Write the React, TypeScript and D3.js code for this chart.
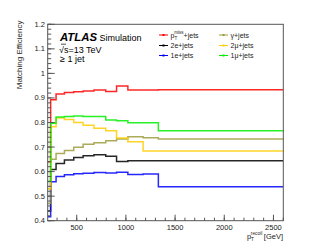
import React from "react";
import * as d3 from "d3";

// bin edges in GeV (pT recoil)
const binEdges = [205, 235, 290, 375, 470, 565, 675, 795, 905, 1020, 1175, 1330, 2600];

const ptmissJets = [0.64, 0.893, 0.916, 0.922, 0.925, 0.928, 0.932, 0.926, 0.949, 0.932, 0.932, 0.933];
const twoEJets = [0.44, 0.609, 0.633, 0.647, 0.657, 0.665, 0.669, 0.663, 0.641, 0.644, 0.644, 0.644];
const oneEJets = [0.416, 0.559, 0.58, 0.587, 0.591, 0.593, 0.596, 0.594, 0.597, 0.588, 0.59, 0.538];
const gammaJets = [0.47, 0.65, 0.674, 0.686, 0.699, 0.711, 0.718, 0.726, 0.733, 0.742, 0.738, 0.733];
const twoMuJets = [0.53, 0.783, 0.818, 0.812, 0.8, 0.789, 0.777, 0.766, 0.737, 0.722, 0.684, 0.684];
const oneMuJets = [0.56, 0.797, 0.822, 0.824, 0.826, 0.824, 0.824, 0.81, 0.807, 0.799, 0.799, 0.766];

const yTicks = [0.4, 0.5, 0.6, 0.7, 0.8, 0.9, 1, 1.1, 1.2];
const xTicks = [500, 1000, 1500, 2000, 2500];

// drawing order, last on top
const series = [
  { key: "ptmiss", values: ptmissJets, color: "#ff0000" },
  { key: "2e", values: twoEJets, color: "#000000" },
  { key: "1e", values: oneEJets, color: "#0000ff" },
  { key: "gamma", values: gammaJets, color: "#9c9c3c" },
  { key: "2mu", values: twoMuJets, color: "#ffcc00" },
  { key: "1mu", values: oneMuJets, color: "#00ee00" },
];

const W = 315;
const H = 246;
const left = 47.7;
const right = 283.3;
const top = 24.3;
const bottom = 220.7;
const font = "'Liberation Sans', Arial, sans-serif";

function App() {
  const x = d3.scaleLinear().domain([205, 2600]).range([left, right]);
  const y = d3.scaleLinear().domain([0.4, 1.2]).range([bottom, top]);

  const line = d3
    .line<[number, number]>()
    .x((d) => x(d[0]))
    .y((d) => y(d[1]))
    .curve(d3.curveStepAfter);

  const stepPoints = (vals: number[]): [number, number][] => {
    const pts: [number, number][] = vals.map((v, i) => [binEdges[i], v]);
    pts.push([binEdges[binEdges.length - 1], vals[vals.length - 1]]);
    return pts;
  };

  const yMinor = d3.range(0.4, 1.2001, 0.02);
  const xMinor = d3.range(300, 2601, 100);

  const legendRows = [
    [
      { color: "#ff0000", label: "ptmiss" },
      { color: "#9c9c3c", label: "γ+jets" },
    ],
    [
      { color: "#000000", label: "2e+jets" },
      { color: "#ffcc00", label: "2μ+jets" },
    ],
    [
      { color: "#0000ff", label: "1e+jets" },
      { color: "#00ee00", label: "1μ+jets" },
    ],
  ];
  const legendY = [35, 45.5, 55.5];
  const legendX = [159, 219];

  return (
    <svg
      width={W}
      height={H}
      style={{ position: "absolute", left: 0, top: 0, background: "#fff" }}
      fontFamily={font}
    >
      <defs>
        <clipPath id="plot-clip">
          <rect x={left} y={top} width={right - left} height={bottom - top} />
        </clipPath>
      </defs>

      {/* histograms */}
      <g clipPath="url(#plot-clip)">
        {series.map((s) => (
          <path
            key={s.key}
            d={line(stepPoints(s.values)) || ""}
            fill="none"
            stroke={s.color}
            strokeWidth={1.5}
            strokeOpacity={0.85}
          />
        ))}
      </g>

      {/* frame */}
      <rect
        x={left}
        y={top}
        width={right - left}
        height={bottom - top}
        fill="none"
        stroke="#555"
        strokeWidth={1}
      />

      {/* y axis ticks */}
      {yMinor.map((v, i) => (
        <line key={"ym" + i} x1={left} x2={left + 3.5} y1={y(v)} y2={y(v)} stroke="#555" />
      ))}
      {yTicks.map((v) => (
        <g key={"y" + v}>
          <line x1={left} x2={left + 7} y1={y(v)} y2={y(v)} stroke="#555" />
          <text x={45} y={y(v) + 2.5} fontSize={7.5} textAnchor="end" fill="#222">
            {String(v)}
          </text>
        </g>
      ))}

      {/* x axis ticks */}
      {xMinor.map((v) => (
        <line key={"xm" + v} x1={x(v)} x2={x(v)} y1={bottom} y2={bottom - 3} stroke="#555" />
      ))}
      {xTicks.map((v) => (
        <g key={"x" + v}>
          <line x1={x(v)} x2={x(v)} y1={bottom} y2={bottom - 6} stroke="#555" />
          <text x={x(v)} y={230} fontSize={7.5} textAnchor="middle" fill="#222">
            {v}
          </text>
        </g>
      ))}

      {/* axis titles */}
      <text
        transform={`translate(21.5,20.5) rotate(-90)`}
        fontSize={8}
        textAnchor="end"
        fill="#222"
      >
        Matching Efficiency
      </text>
      <text x={283} y={238.5} fontSize={7.5} textAnchor="end" fill="#222">
        p
        <tspan fontSize={4.8} dy={2.5}>T</tspan>
        <tspan fontSize={4.8} dx={-3} dy={-6.5}>recoil</tspan>
        <tspan dy={4} dx={1.5}>[GeV]</tspan>
      </text>

      {/* ATLAS label */}
      <text
        x={60}
        y={40.5}
        fontSize={11.5}
        fontWeight="bold"
        fontStyle="italic"
        fill="#000"
        textLength={37}
        lengthAdjust="spacingAndGlyphs"
      >
        ATLAS
      </text>
      <text x={99.5} y={40.5} fontSize={9.5} fill="#000" textLength={42} lengthAdjust="spacingAndGlyphs">
        Simulation
      </text>
      <text x={59} y={52.5} fontSize={9} fill="#000">
        √s=13 TeV
      </text>
      <line x1={61} x2={66} y1={44.2} y2={44.2} stroke="#000" strokeWidth={0.7} />
      <text x={60} y={61.5} fontSize={9} fill="#000">
        ≥ 1 jet
      </text>

      {/* legend */}
      {legendRows.map((row, r) =>
        row.map((item, c) => (
          <g key={"lg" + r + c}>
            <line
              x1={legendX[c]}
              x2={legendX[c] + 9}
              y1={legendY[r]}
              y2={legendY[r]}
              stroke={item.color}
              strokeWidth={1}
            />
            <rect
              x={legendX[c] + 3.5}
              y={legendY[r] - 1}
              width={2}
              height={2}
              fill={item.color}
            />
            {item.label === "ptmiss" ? (
              <text x={legendX[c] + 11.5} y={legendY[r] + 2.5} fontSize={7} fill="#222">
                p
                <tspan fontSize={4.5} dy={2.5}>T</tspan>
                <tspan fontSize={4.5} dx={-2.8} dy={-6.5}>miss</tspan>
                <tspan dy={4}>+jets</tspan>
              </text>
            ) : (
              <text x={legendX[c] + 11.5} y={legendY[r] + 2.5} fontSize={7} fill="#222">
                {item.label}
              </text>
            )}
          </g>
        ))
      )}
    </svg>
  );
}

export default App;
